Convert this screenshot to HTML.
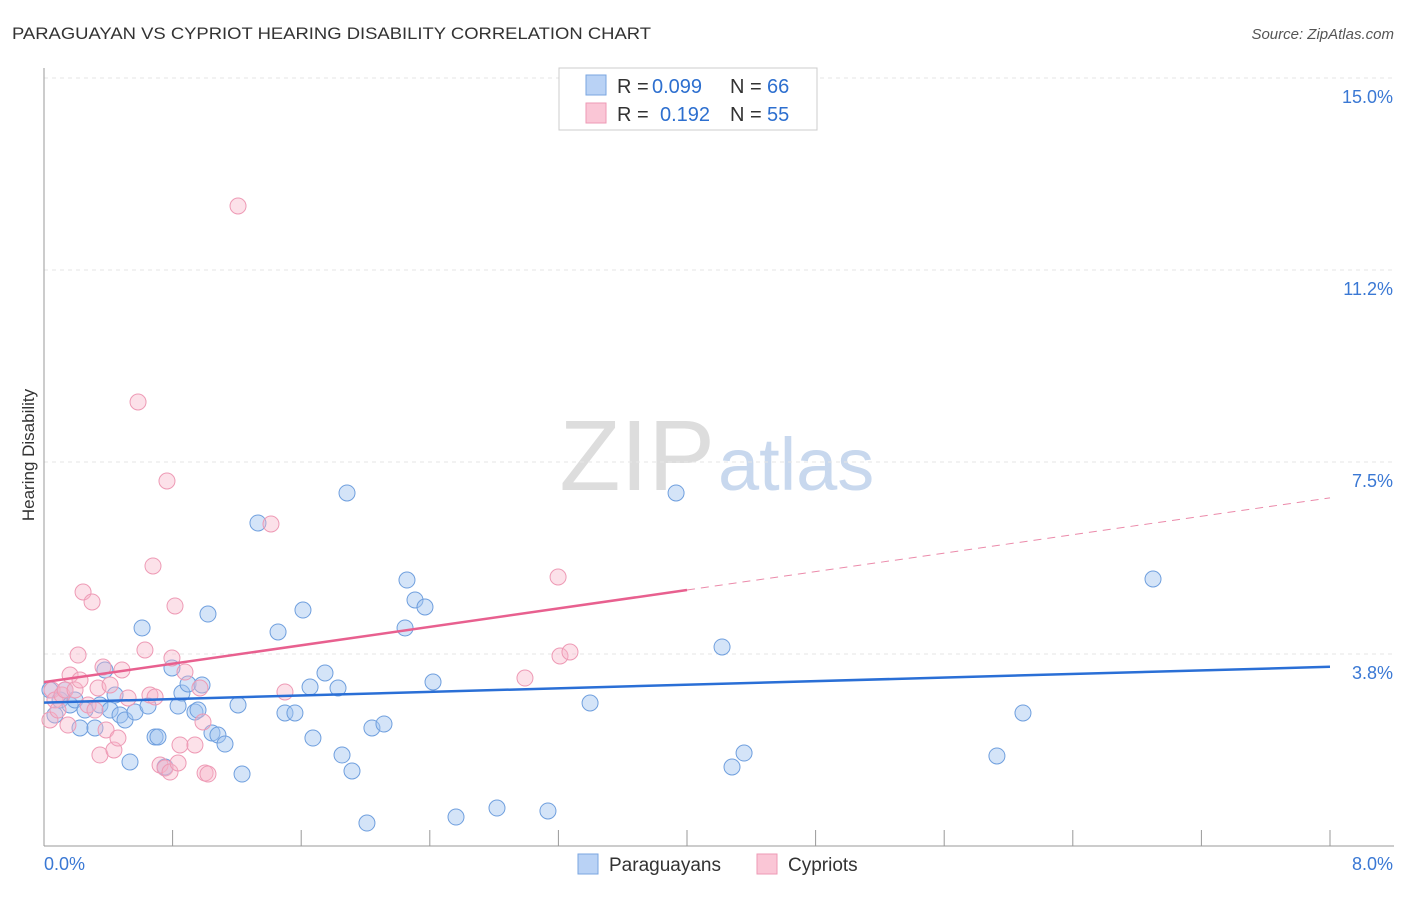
<!DOCTYPE html>
<html><head><meta charset="utf-8"><style>
body{margin:0;background:#fff;font-family:"Liberation Sans",sans-serif}
svg text{font-family:"Liberation Sans",sans-serif}
</style></head><body>
<svg id="c" width="1406" height="892">
<text x="12" y="39" font-size="17" fill="#333" textLength="639" lengthAdjust="spacingAndGlyphs">PARAGUAYAN VS CYPRIOT HEARING DISABILITY CORRELATION CHART</text>
<text x="1394" y="39" font-size="15" fill="#555" font-style="italic" text-anchor="end">Source: ZipAtlas.com</text>
<text x="715" y="490" font-size="100" fill="#ddd" text-anchor="end" font-family="Liberation Serif">ZIP</text>
<text x="718" y="490" font-size="74" fill="#c8d8ee">atlas</text>
<text x="34" y="455" font-size="17" fill="#333" text-anchor="middle" transform="rotate(-90 34 455)">Hearing Disability</text>
<g id="grid"></g><g id="pts"></g><g id="lines"></g>
<g>
<rect x="559" y="68" width="258" height="62" fill="#fff" stroke="#ccc"/>
<rect x="586" y="75" width="20" height="20" fill="#b9d2f5" stroke="#7aa6e0"/>
<rect x="586" y="103" width="20" height="20" fill="#fac6d6" stroke="#ee9ab5"/>
<text x="617" y="93" font-size="20" fill="#333">R =</text><text x="652" y="93" font-size="20" fill="#2d6fcf">0.099</text>
<text x="730" y="93" font-size="20" fill="#333">N =</text><text x="767" y="93" font-size="20" fill="#2d6fcf">66</text>
<text x="617" y="121" font-size="20" fill="#333">R =</text><text x="660" y="121" font-size="20" fill="#2d6fcf">0.192</text>
<text x="730" y="121" font-size="20" fill="#333">N =</text><text x="767" y="121" font-size="20" fill="#2d6fcf">55</text>
</g>
<g>
<rect x="578" y="854" width="20" height="20" fill="#b9d2f5" stroke="#7aa6e0"/>
<text x="609" y="871" font-size="19" fill="#333">Paraguayans</text>
<rect x="757" y="854" width="20" height="20" fill="#fac6d6" stroke="#ee9ab5"/>
<text x="788" y="871" font-size="19" fill="#333">Cypriots</text>
</g>
</svg>
<script>
const yTicks=[3.75,7.5,11.25,15];
const yTickLabels=["3.8%","7.5%","11.2%","15.0%"];
const xTickLabels=["0.0%","8.0%"];
const blueX=[50,55,60,65,70,75,80,85,95,100,105,110,115,120,125,130,135,142,148,155,158,165,172,178,182,188,195,198,202,208,212,218,225,238,242,258,278,285,295,303,310,313,325,338,342,347,352,367,372,384,405,407,415,425,433,456,497,548,590,676,722,732,744,997,1023,1153].map(p=>+((p-44)/160.75).toFixed(3));
const blueY=[690,715,700,690,705,700,728,710,728,705,670,710,695,715,720,762,712,628,706,737,737,767,668,706,693,684,712,710,685,614,733,735,744,705,774,523,632,713,713,610,687,738,673,688,755,493,771,823,728,724,628,580,600,607,682,817,808,811,703,493,647,767,753,756,713,579].map(p=>+((846-p)/51.2).toFixed(3));
const pinkX=[50,52,55,58,62,65,68,70,75,78,80,83,88,92,95,98,100,103,106,110,114,118,122,128,138,145,150,153,155,160,165,167,170,172,175,178,180,185,195,200,203,205,208,238,271,285,525,558,560,570].map(p=>+((p-44)/160.75).toFixed(3));
const pinkY=[720,690,700,710,695,690,725,675,690,655,680,592,705,602,710,688,755,667,730,685,750,738,670,698,402,650,695,566,697,765,768,481,772,658,606,763,745,672,745,688,722,773,774,206,524,692,678,577,656,652].map(p=>+((846-p)/51.2).toFixed(3));
const blueTrend=[2.8,3.5];
const pinkTrend=[3.2,6.8];
const X=v=>44+v*160.75, Y=v=>846-v*51.2;
const NS="http://www.w3.org/2000/svg";
function mk(t,a,p){const e=document.createElementNS(NS,t);for(const k in a)e.setAttribute(k,a[k]);p.appendChild(e);return e;}
const g=document.getElementById('grid');
yTicks.forEach((t,i)=>{const l=mk('line',{x1:44,x2:1394,y1:Y(t),y2:Y(t),stroke:'#e6e6e6','stroke-dasharray':'4,4'},g);

const tx=mk('text',{x:1393,y:Y(t)+25,'font-size':18,fill:'#3a78d4','text-anchor':'end'},g);tx.textContent=yTickLabels[i];
});
mk('line',{x1:44,x2:44,y1:68,y2:846,stroke:'#999'},g);
mk('line',{x1:44,x2:1394,y1:846,y2:846,stroke:'#999'},g);
for(let i=1;i<=10;i++){mk('line',{x1:X(i*0.8),x2:X(i*0.8),y1:830,y2:846,stroke:'#999'},g);}
const xl=[mk('text',{x:44,y:870,'font-size':18,fill:'#3a78d4'},g),mk('text',{x:1393,y:870,'font-size':18,fill:'#3a78d4','text-anchor':'end'},g)];
xl.forEach((e,i)=>{e.textContent=xTickLabels[i];});
const P=document.getElementById('pts');
blueX.forEach((x,i)=>{const c=mk('circle',{cx:X(x),cy:Y(blueY[i]),r:8,fill:'rgba(160,195,240,0.45)',stroke:'#6f9fde','stroke-width':1},P);
});
pinkX.forEach((x,i)=>{const c=mk('circle',{cx:X(x),cy:Y(pinkY[i]),r:8,fill:'rgba(248,180,200,0.4)',stroke:'#ee9ab5','stroke-width':1},P);
});
const L=document.getElementById('lines');
const bl=mk('line',{x1:X(0),y1:Y(blueTrend[0]),x2:X(8),y2:Y(blueTrend[1]),stroke:'#2a6fd6','stroke-width':2.5},L);

const py=x=>pinkTrend[0]+(pinkTrend[1]-pinkTrend[0])*x/8;
const pl=mk('line',{x1:X(0),y1:Y(py(0)),x2:X(4),y2:Y(py(4)),stroke:'#e8608f','stroke-width':2.5},L);

const pd=mk('line',{x1:X(4),y1:Y(py(4)),x2:X(8),y2:Y(py(8)),stroke:'#eb8aaa','stroke-width':1,'stroke-dasharray':'8,6'},L);

</script>
</body></html>
